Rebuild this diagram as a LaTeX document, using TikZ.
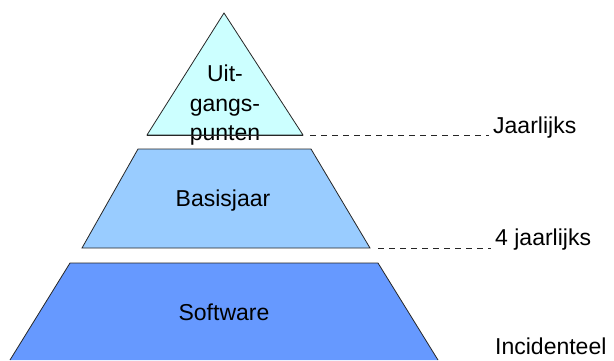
\documentclass[tikz,border=0pt]{standalone}
\usepackage{fontspec}
\setmainfont{Liberation Sans}
\usetikzlibrary{positioning, calc}
\definecolor{cTop}{RGB}{204,255,255}
\definecolor{cMid}{RGB}{153,204,255}
\definecolor{cLow}{RGB}{102,153,255}
\tikzset{
	layer/.style   ={draw=black!85, line width=0.8pt, line join=miter},
	lbl/.style     ={font=\fontsize{23}{27}\selectfont, inner sep=0pt, align=center},
	side/.style    ={font=\fontsize{23}{27}\selectfont, inner sep=4pt, anchor=base west},
	guide/.style   ={dashed, dash pattern=on 6pt off 5pt, line width=0.8pt, black!85},
}

\begin{document}
\begin{tikzpicture}[x=1pt, y=-1pt]
			\useasboundingbox (0,0) rectangle (614,360);
			% corners of the three layers
			\coordinate (tA) at (224,13);
			\coordinate (tL) at (147,135);
			\coordinate (tR) at (303,135);
			\coordinate (mTL) at (138,149);
			\coordinate (mTR) at (311,149);
			\coordinate (mBR) at (370,248);
			\coordinate (mBL) at (82,248);
			\coordinate (bTL) at (70,263);
			\coordinate (bTR) at (378,263);
			\coordinate (bBR) at (438,360);
			\coordinate (bBL) at (10,360);
			% layers
			\fill[cLow] (bBL) -- (bTL) -- (bTR) -- (bBR) -- cycle;
			\draw[layer] (bBL) -- (bTL) -- (bTR) -- (bBR);
			\draw[layer, fill=cMid] (mTL) -- (mTR) -- (mBR) -- (mBL) -- cycle;
			\draw[layer, fill=cTop] (tA) -- (tR) -- (tL) -- cycle;
			\node[lbl, anchor=north] (uitg) at (225,65) {Uit-\\[2.5pt]gangs-\\[2.5pt]punten};
			\draw[layer] (tL) -- (tR);
			\node[lbl, anchor=base] (basis) at (223,206) {Basisjaar};
			\node[lbl, anchor=base] (soft) at (224,320) {Software};
			% frequency labels
			\node[side] (jaar) at (489,133) {Jaarlijks};
			\node[side] (vier) at (491,245) {4 jaarlijks};
			\node[side] (incid) at (491,354) {Incidenteel};
			\draw[guide] ([xshift=7pt]tR) -- (tR -| jaar.west);
			\draw[guide] ([xshift=8pt]mBR) -- (mBR -| vier.west);
\end{tikzpicture}
\end{document}
